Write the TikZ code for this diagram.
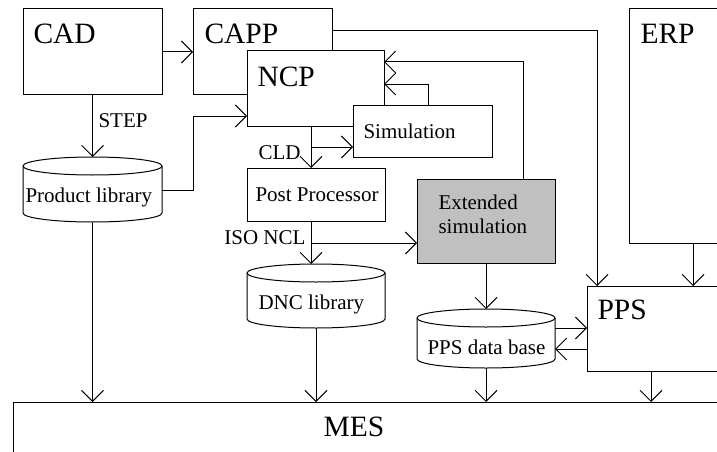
\documentclass[tikz,border=0pt]{standalone}
\usepackage{fontspec}
\setmainfont{Liberation Serif}
\usetikzlibrary{arrows.meta}
\newcommand\mycyl[7]{%
  \node[cylnode, minimum width=#4, minimum height=#5] (#1) at (#2,#3) {};
  \draw ([yshift=-9pt]#1.north west) -- ([yshift=9pt]#1.south west)
     arc[start angle=180, end angle=360, x radius={#4*0.5pt}, y radius=9pt]
     -- ([yshift=-9pt]#1.north east)
     arc[start angle=0, end angle=180, x radius={#4*0.5pt}, y radius=9pt];
  \draw ([yshift=-9pt]#1.north west)
     arc[start angle=180, end angle=360, x radius={#4*0.5pt}, y radius=9pt];
  \node[small] (#1t) at ([xshift=#7pt,yshift=-45pt]#1.north west) {#6};
}
\begin{document}
\begin{tikzpicture}[x=1pt, y=1pt, line width=1pt,
  box/.style={draw, fill=white, inner sep=0pt, outer sep=0pt, anchor=north west},
  cylnode/.style={inner sep=0pt, outer sep=0pt, anchor=north west},
  big/.style={font=\fontsize{29.5}{33}\selectfont, inner sep=0pt, anchor=base west},
  small/.style={font=\fontsize{21}{24}\selectfont, inner sep=0pt, anchor=base west},
  arr/.style={-{Straight Barb[length=11pt,width=22pt]}},
  lbl/.style={font=\fontsize{21}{24}\selectfont, inner sep=0pt},
]
\useasboundingbox (0,0) rectangle (717,-452);
\clip (0,0) rectangle (717,-452);

% boxes
\node[box, minimum width=139, minimum height=85] (cad) at (23,-9) {};
\node[big] (cadt) at (33,-44) {CAD};
\node[box, minimum width=139, minimum height=85] (capp) at (193,-9) {};
\node[big] (cappt) at (204,-44) {CAPP};
\node[box, minimum width=137, minimum height=75] (ncp) at (247,-51) {};
\node[big] (ncpt) at (257,-86) {NCP};
\node[box, minimum width=139, minimum height=52] (sim) at (353,-105) {};
\node[small] (simt) at (363,-138) {Simulation};
\node[box, minimum width=138, minimum height=53] (post) at (247,-168) {};
\node[small] (postt) at (255,-201) {Post Processor};
\node[box, fill={rgb,255:red,192;green,192;blue,192}, minimum width=138, minimum height=84] (ext) at (417,-179) {};
\node[small, align=left, anchor=north west] (extt) at (438,-194) {Extended\\simulation};
\node[box, minimum width=128, minimum height=234] (erp) at (629,-9) {};
\node[big] (erpt) at (640,-44) {ERP};
\node[box, minimum width=140, minimum height=85] (pps) at (587,-286) {};
\node[big] (ppst) at (597,-319) {PPS};
\node[box, minimum width=720, minimum height=80] (mes) at (13,-402) {};
\node[big, anchor=base] (mest) at (354,-436) {MES};

% cylinders
\mycyl{pl}{23}{-157}{139}{65}{Product library}{2}
\mycyl{dnc}{247}{-264}{138}{64}{DNC library}{11}
\mycyl{ppsdb}{417}{-309}{138}{59}{PPS data base}{10}

% connectors
\draw[arr] (cad.east |- 0,-52) -- (capp.west |- 0,-52);
\draw[arr] (cad.south -| pl.north) -- (pl.north);
\node[lbl, anchor=base west] (step) at (98,-127) {STEP};
\draw[arr] (pl.east |- 0,-190) -| (193,-116) -- (ncp.west |- 0,-116);
\draw[arr] (capp.east |- 0,-31) -| (597,-286);
\draw[arr] (ncp.south -| 311,0) -- (post.north -| 311,0);
\node[lbl, anchor=base east] (cld) at (301,-159) {CLD};
\draw[arr] (311,-147) -- (sim.west |- 0,-147);
\draw[arr] (sim.north -| 428,0) |- (ncp.east |- 0,-84);
\draw[arr] (ext.north -| 523,0) |- (ncp.east |- 0,-62);
\draw[arr] (post.south -| 311,0) -- (dnc.north -| 311,0);
\node[lbl, anchor=base east] (isoncl) at (306,-244) {ISO NCL};
\draw[arr] (311,-243) -- (ext.west |- 0,-243);
\draw[arr] (ext.south -| ppsdb.north) -- (ppsdb.north);
\draw[arr] (ppsdb.east |- 0,-328) -- (pps.west |- 0,-328);
\draw[arr] (pps.west |- 0,-349) -- (ppsdb.east |- 0,-349);
\draw[arr] (erp.south) -- (erp.south |- pps.north);
\draw[arr] (pl.south) -- (pl.south |- mes.north);
\draw[arr] (dnc.south) -- (dnc.south |- mes.north);
\draw[arr] (ppsdb.south) -- (ppsdb.south |- mes.north);
\draw[arr] (pps.south -| 651,0) -- (651,-402);
\end{tikzpicture}
\end{document}
